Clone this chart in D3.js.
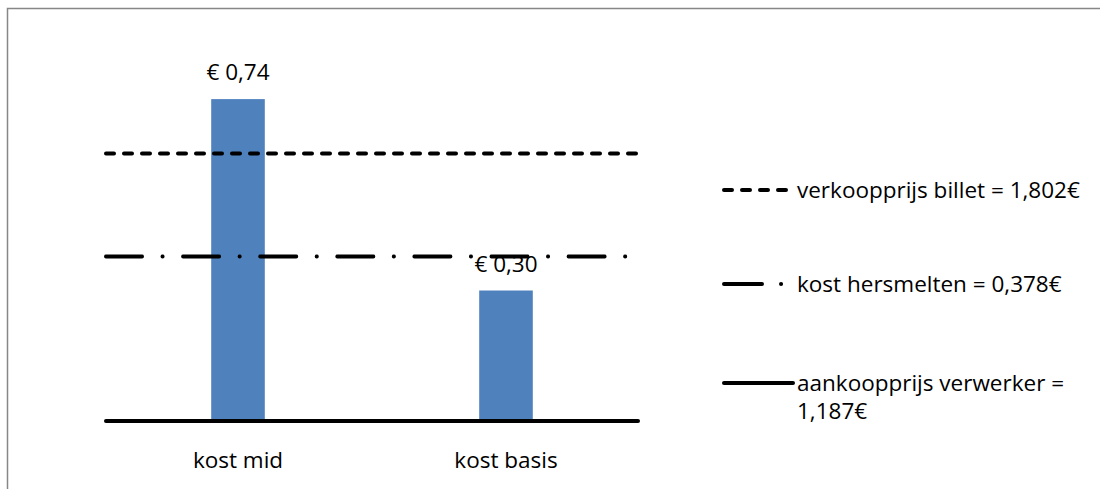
<!DOCTYPE html>
<html>
<head>
<meta charset="utf-8">
<script src="https://cdn.jsdelivr.net/npm/d3@7"></script>
<style>
  html, body { margin: 0; padding: 0; background: #fff; }
  svg { display: block; font-family: "Open Sans", "Noto Sans", sans-serif; }
</style>
</head>
<body>
<svg id="chart" width="1100" height="489"></svg>
<script>
// Cost per category (€)
const categories = ["kost mid", "kost basis"];
const costValues = [0.74, 0.30];
const costLabels = ["€ 0,74", "€ 0,30"];

// Reference levels, measured from the purchase price (aankoopprijs = 0)
const refNames = ["verkooprijs", "hersmelten", "aankoop"];
const refLevels = [0.615, 0.378, 0];
const refLegend = [
  ["verkoopprijs billet = 1,802€"],
  ["kost hersmelten = 0,378€"],
  ["aankoopprijs verwerker =", "1,187€"]
];

const fontSize = 22.5;
const svg = d3.select("#chart");

// Outer chart frame
svg.append("rect")
  .attr("x", 7.5).attr("y", 8.5)
  .attr("width", 1200).attr("height", 600)
  .attr("fill", "none").attr("stroke", "#878787").attr("stroke-width", 1.5);

const plot = { left: 104, right: 640, top: 73, bottom: 421 };

const x = d3.scaleBand()
  .domain(categories)
  .range([plot.left, plot.right])
  .paddingInner(0.8).paddingOuter(0.4);

const y = d3.scaleLinear()
  .domain([0, 0.8])
  .range([plot.bottom, plot.top]);

// Bars
svg.append("g").selectAll("rect")
  .data(categories)
  .join("rect")
  .attr("x", d => x(d))
  .attr("width", x.bandwidth())
  .attr("y", (d, i) => y(costValues[i]))
  .attr("height", (d, i) => y(0) - y(costValues[i]))
  .attr("fill", "#4F81BD");

// Line styles for the reference levels
const styles = {
  verkooprijs: { dash: "8,10", width: 4 },
  hersmelten: { dash: "36,20.5,0.1,20.5", width: 4 },
  aankoop: { dash: null, width: 4 }
};

svg.append("g").selectAll("line")
  .data(refNames)
  .join("line")
  .attr("x1", plot.left + 2)
  .attr("x2", plot.right - 2)
  .attr("y1", (d, i) => y(refLevels[i]))
  .attr("y2", (d, i) => y(refLevels[i]))
  .attr("stroke", "#000")
  .attr("stroke-width", d => styles[d].width)
  .attr("stroke-linecap", "round")
  .attr("stroke-dasharray", d => styles[d].dash);

// Value labels above bars
svg.append("g").selectAll("text")
  .data(categories)
  .join("text")
  .attr("x", d => x(d) + x.bandwidth() / 2)
  .attr("y", (d, i) => y(costValues[i]) - 19)
  .attr("text-anchor", "middle")
  .attr("font-size", fontSize)
  .attr("fill", "#000")
  .text((d, i) => costLabels[i]);

// Category axis labels
const xAxis = d3.axisBottom(x).tickSize(0).tickPadding(31);
const gx = svg.append("g")
  .attr("transform", `translate(0,${plot.bottom})`)
  .call(xAxis);
gx.select(".domain").remove();
gx.selectAll("text").attr("font-size", fontSize).attr("fill", "#000")
  .attr("font-family", "'Open Sans', sans-serif");

// Legend
const legendY = [190, 284, 383];
const lg = svg.append("g").selectAll("g")
  .data(refNames)
  .join("g")
  .attr("transform", (d, i) => `translate(722,${legendY[i]})`);

lg.append("line")
  .attr("x1", 2).attr("x2", d => d === "aankoop" ? 71 : 66)
  .attr("y1", 0).attr("y2", 0)
  .attr("stroke", "#000")
  .attr("stroke-width", 4)
  .attr("stroke-linecap", "round")
  .attr("stroke-dasharray", d => d === "hersmelten" ? "38,19,0.1,40" : (styles[d].dash ? "8,10" : null));

lg.append("text")
  .attr("x", d => d === "aankoop" ? 75 : 75)
  .attr("y", 8)
  .attr("font-size", fontSize)
  .attr("fill", "#000")
  .selectAll("tspan")
  .data((d, i) => refLegend[i])
  .join("tspan")
  .attr("x", function () { return this.parentNode.getAttribute("x"); })
  .attr("dy", (d, j) => j === 0 ? 0 : 28)
  .text(d => d);
</script>
</body>
</html>
